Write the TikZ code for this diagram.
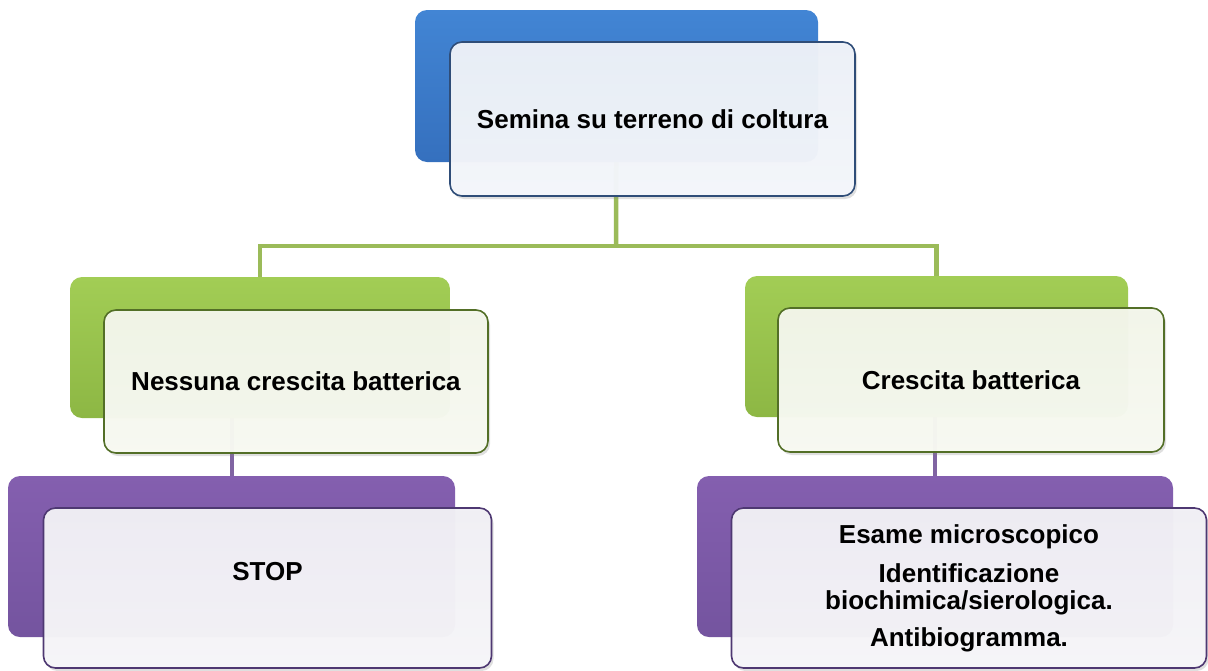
\documentclass[tikz,border=0pt]{standalone}
\usepackage{fontspec}
\setmainfont{Liberation Sans}
\usepackage{tikz}
\usetikzlibrary{shadows,backgrounds}
\definecolor{blueback}{HTML}{4285D4}
\definecolor{bluedark}{HTML}{3570BE}
\definecolor{blueedge}{HTML}{2F4D78}
\definecolor{bluepale}{HTML}{EDF1F8}
\definecolor{greenback}{HTML}{A2CD55}
\definecolor{greendark}{HTML}{8DB744}
\definecolor{greenedge}{HTML}{536F27}
\definecolor{greenpale}{HTML}{F3F6EA}
\definecolor{purpleback}{HTML}{845FAF}
\definecolor{purpledark}{HTML}{74549F}
\definecolor{purpleedge}{HTML}{4E3872}
\definecolor{purplepale}{HTML}{F1F0F5}
\definecolor{greenline}{HTML}{9BBB59}
\definecolor{purpleline}{HTML}{8064A2}
\tikzstyle{back} = [rectangle, rounded corners=12pt, draw=none, inner sep=0pt]
\tikzstyle{front} = [rectangle, rounded corners=12pt, line width=1.6pt, text centered, align=center, font=\fontsize{26}{27}\selectfont\bfseries, fill opacity=0.97, text opacity=1, drop shadow={shadow xshift=2pt, shadow yshift=-3pt, opacity=0.25}]
\tikzstyle{bluebk} = [back, top color=blueback, bottom color=bluedark]
\tikzstyle{greenbk} = [back, top color=greenback, bottom color=greendark]
\tikzstyle{purplebk} = [back, top color=purpleback, bottom color=purpledark]
\tikzstyle{bluefr} = [front, draw=blueedge, top color=bluepale, bottom color=bluepale!60!white]
\tikzstyle{greenfr} = [front, draw=greenedge, top color=greenpale, bottom color=greenpale!60!white]
\tikzstyle{purplefr} = [front, draw=purpleedge, top color=purplepale, bottom color=purplepale!60!white]
\tikzstyle{gline} = [draw=greenline, line width=4.5pt]
\tikzstyle{pline} = [draw=purpleline, line width=4pt]

\begin{document}
\begin{tikzpicture}[x=1pt,y=-1pt]
\useasboundingbox (0,0) rectangle (1208,670);

% top
\node (semB) [bluebk, minimum width=403pt, minimum height=152pt] at (616.5,86) {};
\node (semF) [bluefr, minimum width=405pt, minimum height=154pt, xshift=36pt, yshift=-33pt] at (semB) {Semina su terreno di coltura};

% left branch
\node (nessB) [greenbk, minimum width=380pt, minimum height=141pt] at (260,347.5) {};
\node (nessF) [greenfr, minimum width=384pt, minimum height=143pt, xshift=36pt, yshift=-34pt] at (nessB) {Nessuna crescita batterica};
\node (stopB) [purplebk, minimum width=447pt, minimum height=161pt] at (231.5,556.5) {};
\node (stopF) [purplefr, minimum width=448pt, minimum height=160pt, text depth=34pt, xshift=36pt, yshift=-31.5pt] at (stopB) {STOP};

% right branch
\node (cresB) [greenbk, minimum width=383pt, minimum height=141pt] at (936.5,346.5) {};
\node (cresF) [greenfr, minimum width=386pt, minimum height=144pt, xshift=34.5pt, yshift=-33.5pt] at (cresB) {Crescita batterica};
\node (analB) [purplebk, minimum width=476pt, minimum height=161pt] at (935,556.5) {};
\node (analF) [purplefr, minimum width=475pt, minimum height=160pt, xshift=34pt, yshift=-31.5pt] at (analB) {Esame microscopico\\[12pt]Identificazione\\biochimica/sierologica.\\[10pt]Antibiogramma.};

\begin{scope}[on background layer]
\coordinate (bus) at (616,246);
\draw [gline] (semB) -- (bus);
\draw [gline] (bus) -| (nessB);
\draw [gline] (bus) -| (cresB);
\draw [pline] (stopB.north) -- (stopB.north |- nessB.south);
\draw [pline] (analB.north) -- (analB.north |- cresB.south);
\end{scope}
\end{tikzpicture}
\end{document}
